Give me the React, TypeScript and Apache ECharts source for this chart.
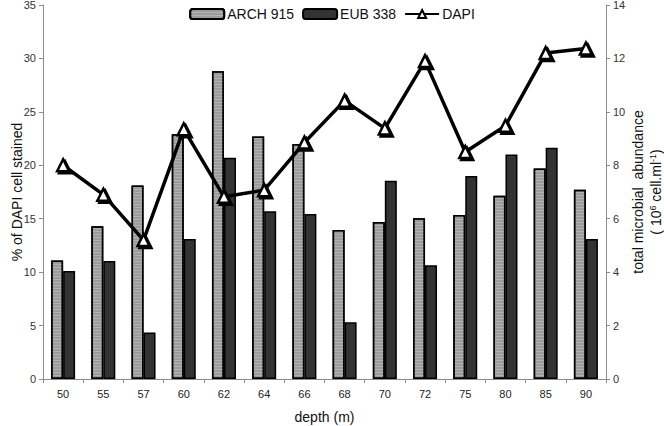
import React, { useEffect, useRef } from "react";
import * as echarts from "echarts";

const depths = ["50", "55", "57", "60", "62", "64", "66", "68", "70", "72", "75", "80", "85", "90"];
const arch915 = [11.1, 14.3, 18.1, 22.9, 28.8, 22.7, 22.0, 13.95, 14.7, 15.05, 15.35, 17.15, 19.7, 17.7];
const eub338 = [10.1, 11.05, 4.35, 13.1, 20.7, 15.7, 15.45, 5.3, 18.55, 10.65, 19.0, 21.0, 21.65, 13.1];
const dapi = [8.0, 6.9, 5.2, 9.35, 6.82, 7.07, 8.85, 10.42, 9.38, 11.9, 8.5, 9.48, 12.2, 12.37];
const leftTicks = { min: 0, max: 35, interval: 5 };
const rightTicks = { min: 0, max: 14, interval: 2 };
const leftTitle = "% of DAPI cell stained";
const rightTitle1 = "total microbial  abundance";
const rightTitle2 = "{a|( 10}{sup|6}{a| cell.ml}{sup|-1}{a|)}";

const FONT = "'Liberation Sans', Arial, sans-serif";

export default function App() {
  const ref = useRef<HTMLDivElement>(null);
  useEffect(() => {
    if (!ref.current) return;
    const chart = echarts.init(ref.current, undefined, { renderer: "svg" });
    const axisLine = { show: true, lineStyle: { color: "#8c8c8c", width: 1 } };
    const axisTick = { show: true, length: 4, lineStyle: { color: "#8c8c8c" } };
    const titleStyle = { fontSize: 14, fontFamily: FONT, fill: "#111", align: "center", verticalAlign: "middle" };
    chart.setOption({
      animation: false,
      textStyle: { fontFamily: FONT },
      legend: {
        top: 2,
        left: "center",
        itemWidth: 34,
        itemHeight: 10,
        itemGap: 8,
        textStyle: { fontSize: 14, color: "#111", fontFamily: FONT, padding: [0, 0, 0, -2] },
        data: ["ARCH 915", "EUB 338", "DAPI"],
      },
      grid: { left: 43, right: 58, top: 5, bottom: 47, containLabel: false, outerBoundsMode: "none" },
      graphic: [
        { type: "text", x: 17, y: 192, rotation: Math.PI / 2, style: { ...titleStyle, text: leftTitle } },
        { type: "text", x: 638, y: 192, rotation: Math.PI / 2, style: { ...titleStyle, text: rightTitle1 } },
        {
          type: "text",
          x: 656,
          y: 192,
          rotation: Math.PI / 2,
          style: {
            ...titleStyle,
            text: rightTitle2,
            rich: {
              a: { fontSize: 14, fontFamily: FONT, fill: "#111", lineHeight: 16 },
              sup: { fontSize: 9, fontFamily: FONT, fill: "#111", lineHeight: 16, verticalAlign: "top", padding: [0, 0, 5, 0] },
            },
          },
        },
      ],
      xAxis: {
        type: "category",
        data: depths,
        boundaryGap: true,
        axisLine,
        axisTick: { ...axisTick, alignWithLabel: false },
        axisLabel: { fontSize: 11, color: "#222", margin: 9, fontFamily: FONT },
        name: "depth (m)",
        nameLocation: "middle",
        nameGap: 31,
        nameTextStyle: { fontSize: 14, color: "#111", fontFamily: FONT },
      },
      yAxis: [
        {
          type: "value",
          ...leftTicks,
          position: "left",
          axisLine,
          axisTick,
          splitLine: { show: false },
          axisLabel: { fontSize: 11, color: "#333", margin: 7, fontFamily: FONT },
        },
        {
          type: "value",
          ...rightTicks,
          position: "right",
          axisLine,
          axisTick,
          splitLine: { show: false },
          axisLabel: { fontSize: 11, color: "#333", margin: 7, fontFamily: FONT },
        },
      ],
      series: [
        {
          name: "ARCH 915",
          type: "bar",
          data: arch915,
          barWidth: 12,
          barGap: "0%",
          itemStyle: {
            color: "#9c9c9c",
            borderColor: "#000",
            borderWidth: 1.5,
            decal: {
              symbol: "rect",
              symbolSize: 1,
              dashArrayX: [1, 0],
              dashArrayY: [1, 2],
              color: "rgba(255,255,255,0.22)",
              rotation: 0,
            },
          },
        },
        {
          name: "EUB 338",
          type: "bar",
          data: eub338,
          barWidth: 12,
          itemStyle: { color: "#333333", borderColor: "#000", borderWidth: 1.5 },
        },
        {
          name: "DAPI",
          type: "line",
          yAxisIndex: 1,
          data: dapi,
          symbol: "triangle",
          symbolSize: 12,
          z: 5,
          lineStyle: { color: "#000", width: 3.5 },
          itemStyle: {
            color: "#fff",
            borderColor: "#000",
            borderWidth: 2.5,
            shadowColor: "#000",
            shadowBlur: 0,
            shadowOffsetX: 2,
            shadowOffsetY: 2,
          },
        },
      ],
    });
    return () => chart.dispose();
  }, []);
  return <div ref={ref} style={{ width: 664, height: 426, position: "absolute", left: 0, top: 0 }} />;
}
